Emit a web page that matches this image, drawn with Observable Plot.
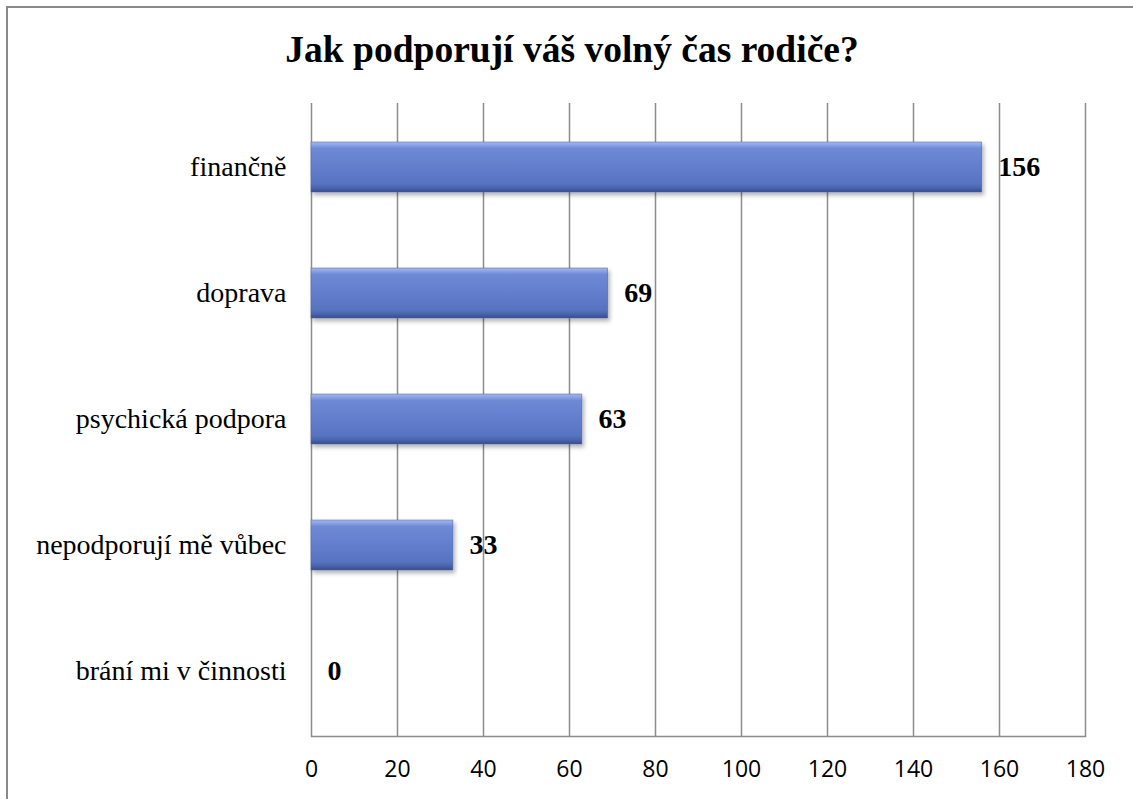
<!DOCTYPE html>
<html>
<head>
<meta charset="utf-8">
<script src="https://cdn.jsdelivr.net/npm/d3@7"></script>
<script src="https://cdn.jsdelivr.net/npm/@observablehq/plot@0.6"></script>
<style>
  body { margin: 0; background: #fff; }
  #frame { position: absolute; left: 6px; top: 6px; width: 1150px; height: 810px; border: 2px solid #8a8a8a; box-sizing: border-box; }
  #title { position: absolute; left: 0; top: 31px; width: 1144px; text-align: center; font-family: "Liberation Serif", "Times New Roman", serif; font-weight: bold; font-size: 37.5px; line-height: 37px; color: #000; margin: 0; }
  #chart { position: absolute; left: 0; top: 90px; }
</style>
</head>
<body>
<div id="frame"></div>
<h1 id="title">Jak podporují váš volný čas rodiče?</h1>
<svg width="0" height="0" style="position:absolute">
  <defs>
    <linearGradient id="barGrad" x1="0" y1="0" x2="0" y2="1">
      <stop offset="0" stop-color="#a3b8ee"/>
      <stop offset="0.07" stop-color="#87a0e2"/>
      <stop offset="0.13" stop-color="#6e8ad6"/>
      <stop offset="0.5" stop-color="#627ecc"/>
      <stop offset="0.84" stop-color="#5773c0"/>
      <stop offset="0.92" stop-color="#4964ac"/>
      <stop offset="1" stop-color="#364b8a"/>
    </linearGradient>
    <filter id="barShadow" x="-5%" y="-20%" width="115%" height="160%">
      <feDropShadow dx="2" dy="3" stdDeviation="2" flood-color="#000" flood-opacity="0.3"/>
    </filter>
  </defs>
</svg>
<div id="chart"></div>
<script>
const categories = ["finančně", "doprava", "psychická podpora", "nepodporují mě vůbec", "brání mi v činnosti"];
const values = [156, 69, 63, 33, 0];
const xTicks = [0, 20, 40, 60, 80, 100, 120, 140, 160, 180];

const data = categories.map((c, i) => ({category: c, value: values[i]}));

const chart = Plot.plot({
  width: 1133,
  height: 709,
  marginLeft: 311,
  marginRight: 48,
  marginTop: 13,
  marginBottom: 63,
  style: {fontFamily: "'Liberation Serif', 'Times New Roman', serif", fontSize: "28px", color: "#000", background: "transparent"},
  x: {domain: [0, 180], ticks: xTicks},
  y: {domain: categories, paddingInner: 0.6, paddingOuter: 0.3},
  marks: [
    Plot.gridX(xTicks, {stroke: "#8c8c8c", strokeOpacity: 1, strokeWidth: 1.5}),
    Plot.frame({anchor: "bottom", stroke: "#8c8c8c", strokeWidth: 1.5}),
    Plot.barX(data, {x: "value", y: "category", fill: "url(#barGrad)", filter: d => d.value > 0, stroke: "#4a62a6", strokeWidth: 0.5}),
    Plot.text(data, {x: "value", y: "category", text: d => String(d.value), dx: 16, textAnchor: "start", fontWeight: "bold", fontSize: 28, fill: "#000"}),
    Plot.axisX(xTicks, {tickSize: 0, tickPadding: 24, fontSize: 23, fontFamily: "'Open Sans', 'Liberation Sans', sans-serif", label: null}),
    Plot.axisY({tickSize: 0, tickPadding: 25, fontSize: 28, label: null})
  ]
});
d3.select(chart).selectAll("g[aria-label='bar'] rect").attr("filter", "url(#barShadow)");
document.getElementById("chart").appendChild(chart);
</script>
</body>
</html>
